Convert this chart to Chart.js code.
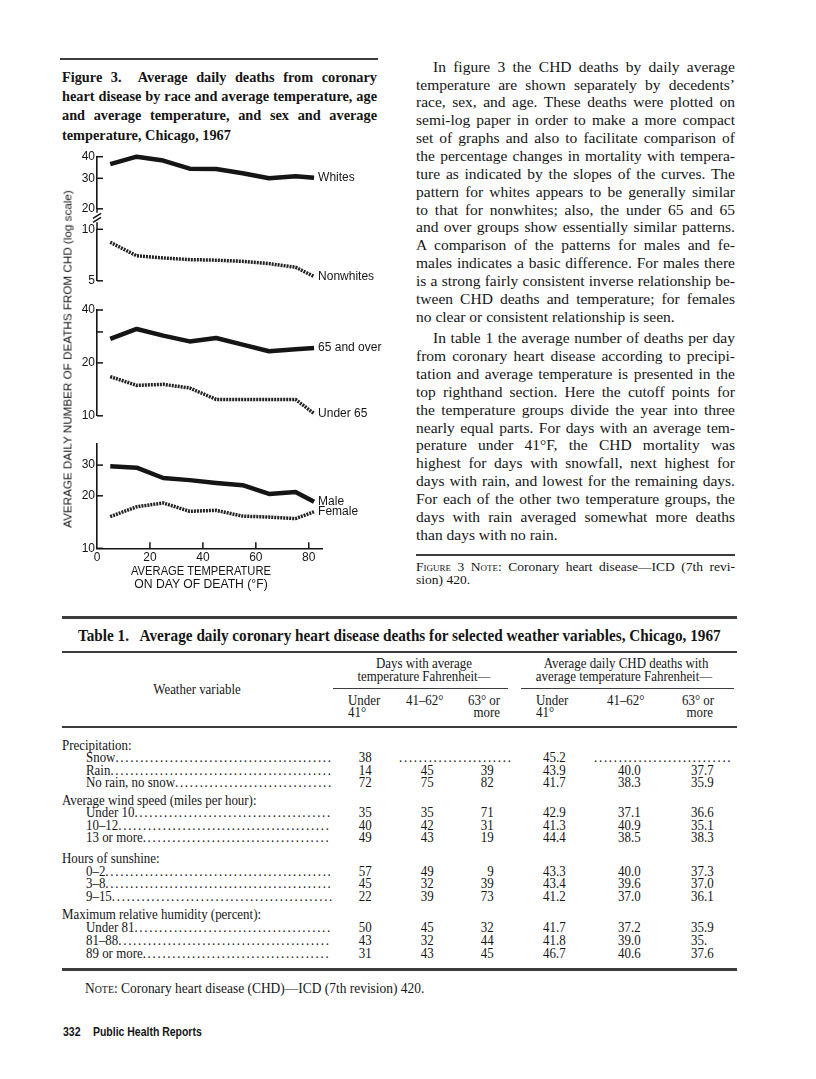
<!DOCTYPE html>
<html>
<head>
<meta charset="utf-8">
<script src="https://cdn.jsdelivr.net/npm/chart.js@4.4.0/dist/chart.umd.min.js"></script>
<style>
  html, body { margin: 0; background: #fff; }
  #page { position: relative; width: 816px; height: 1079px; overflow: hidden; color: #151515;
          font-family: "Liberation Serif", "Times New Roman", serif; }
  .rule { position: absolute; background: #3c3c3c; }
  .t { position: absolute; white-space: nowrap; line-height: 11px; height: 11px; }
  .cap { position: absolute; left: 62px; width: 315px; top: 68px; font-weight: bold; font-size: 14.3px; line-height: 19.2px; }
  .col { position: absolute; left: 416px; width: 319px; font-size: 15.5px; line-height: 17.85px; }
  .j { text-align: justify; text-align-last: justify; }
  .end { text-align: left; text-align-last: left; }
  .ind { text-indent: 17px; }
  .sc { font-variant: small-caps; }
  .dots { letter-spacing: 1.8px; }
  .cw { position: absolute; left: 40px; width: 345px; }
  .sans { font-family: "Liberation Sans", Arial, sans-serif; }
</style>
</head>
<body>
<div id="page">
  <div class="rule" style="left:60px;top:58px;width:318px;height:2px"></div>
  <div class="cap">
    <div class="j">Figure 3.&nbsp; Average daily deaths from coronary</div>
    <div class="j">heart disease by race and average temperature, age</div>
    <div class="j">and average temperature, and sex and average</div>
    <div class="end">temperature, Chicago, 1967</div>
  </div>

  <div class="col" style="top:57.8px">
    <div class="j ind">In figure 3 the CHD deaths by daily average</div>
    <div class="j">temperature are shown separately by decedents’</div>
    <div class="j">race, sex, and age. These deaths were plotted on</div>
    <div class="j">semi-log paper in order to make a more compact</div>
    <div class="j">set of graphs and also to facilitate comparison of</div>
    <div class="j">the percentage changes in mortality with tempera-</div>
    <div class="j">ture as indicated by the slopes of the curves. The</div>
    <div class="j">pattern for whites appears to be generally similar</div>
    <div class="j">to that for nonwhites; also, the under 65 and 65</div>
    <div class="j">and over groups show essentially similar patterns.</div>
    <div class="j">A comparison of the patterns for males and fe-</div>
    <div class="j">males indicates a basic difference. For males there</div>
    <div class="j">is a strong fairly consistent inverse relationship be-</div>
    <div class="j">tween CHD deaths and temperature; for females</div>
    <div class="end">no clear or consistent relationship is seen.</div>
  </div>
  <div class="col" style="top:329.4px">
    <div class="j ind">In table 1 the average number of deaths per day</div>
    <div class="j">from coronary heart disease according to precipi-</div>
    <div class="j">tation and average temperature is presented in the</div>
    <div class="j">top righthand section. Here the cutoff points for</div>
    <div class="j">the temperature groups divide the year into three</div>
    <div class="j">nearly equal parts. For days with an average tem-</div>
    <div class="j">perature under 41°F, the CHD mortality was</div>
    <div class="j">highest for days with snowfall, next highest for</div>
    <div class="j">days with rain, and lowest for the remaining days.</div>
    <div class="j">For each of the other two temperature groups, the</div>
    <div class="j">days with rain averaged somewhat more deaths</div>
    <div class="end">than days with no rain.</div>
  </div>
  <div class="rule" style="left:416px;top:554px;width:319px;height:1.5px"></div>
  <div class="col" style="top:560px;font-size:13.5px;line-height:13.3px">
    <div class="j"><span class="sc">Figure 3 Note</span>: Coronary heart disease—ICD (7th revi-</div>
    <div class="end">sion) 420.</div>
  </div>

  <div class="cw" style="top:146px;height:72px"><canvas id="raceUp"></canvas></div>
  <div class="cw" style="top:212px;height:78px"><canvas id="raceLow"></canvas></div>
  <div class="cw" style="top:300px;height:125px"><canvas id="age"></canvas></div>
  <div class="cw" style="top:433px;height:138px"><canvas id="sex"></canvas></div>

  <div class="rule" style="left:62px;top:616px;width:675px;height:2.5px"></div>
  <div class="rule" style="left:62px;top:651px;width:675px;height:2px"></div>
  <div class="rule" style="left:333px;top:688px;width:175px;height:1.2px"></div>
  <div class="rule" style="left:521px;top:688px;width:213px;height:1.2px"></div>
  <div class="rule" style="left:62px;top:726px;width:675px;height:2px"></div>
  <div class="rule" style="left:62px;top:968px;width:675px;height:2.5px"></div>
</div>

<script>
// figure 3 data (x = temperature bin, °F)
const temps = [5, 15, 25, 35, 45, 55, 65, 75, 82];
const whites = [36.2, 40.0, 38.0, 34.1, 34.0, 32.1, 30.0, 30.8, 30.2];
const nonwhites = [8.4, 7.0, 6.8, 6.65, 6.6, 6.5, 6.3, 6.0, 5.3];
const age65over = [27.4, 31.2, 28.6, 26.5, 27.7, 25.4, 23.3, 23.9, 24.3];
const under65 = [16.7, 14.9, 15.1, 14.4, 12.4, 12.4, 12.4, 12.4, 10.3];
const male = [29.5, 29.0, 25.3, 24.6, 23.7, 23.0, 20.5, 21.0, 18.5];
const female = [15.2, 17.3, 18.2, 16.3, 16.5, 15.3, 15.1, 14.8, 16.2];

const xTicks = [0, 20, 40, 60, 80];
const raceUpTicks = [20, 30, 40];
const raceLowTicks = [5, 10];
const ageTicks = [10, 20, 30, 40];
const ageTickLabels = [10, 20, 40];
const sexTicks = [10, 20, 30];

Chart.defaults.font.family = "'Liberation Sans', Arial, sans-serif";
Chart.defaults.font.size = 12;
Chart.defaults.color = '#151515';

const INK = '#151515';
const SOLID = { borderColor: INK, borderWidth: 4.5, borderJoinStyle: 'round', pointRadius: 0, tension: 0, clip: false };
const DOTTED = { borderColor: '#222', borderWidth: 3.5, borderDash: [2, 1], pointRadius: 0, tension: 0, clip: false };

function series(label, ys, style) {
  return { label, data: temps.map((t, i) => ({ x: t, y: ys[i] })), ...style };
}

// inside tick marks, axis break and end-of-line labels
const decor = {
  id: 'decor',
  afterDatasetsDraw(chart, args, o) {
    const { ctx, chartArea: a, scales: { x, y } } = chart;
    const seg = (x1, y1, x2, y2) => { ctx.beginPath(); ctx.moveTo(x1, y1); ctx.lineTo(x2, y2); ctx.stroke(); };
    ctx.save();
    ctx.strokeStyle = INK; ctx.lineWidth = 1.5; ctx.setLineDash([]);
    y.ticks.forEach(t => { const py = y.getPixelForValue(t.value); seg(a.left, py, a.left + 6, py); });
    if (x.options.display) {
      x.ticks.forEach(t => { if (t.value > 0) { const px = x.getPixelForValue(t.value); seg(px, a.bottom, px, a.bottom - 6); } });
    }
    if (o.tail) seg(a.left, a.bottom, a.left, a.bottom + 4);
    if (o.breakMark) {
      seg(a.left, a.top - 7, a.left, a.top);
      seg(a.left - 4, a.top - 7, a.left + 4, a.top - 12);
      seg(a.left - 4, a.top - 11, a.left + 4, a.top - 16);
    }
    ctx.font = "12px 'Liberation Sans', Arial, sans-serif";
    ctx.fillStyle = INK; ctx.textBaseline = 'middle'; ctx.textAlign = 'left';
    chart.data.datasets.forEach((ds, i) => {
      const pts = chart.getDatasetMeta(i).data;
      const p = pts[pts.length - 1];
      ctx.fillText(ds.label, p.x + 4, p.y + (ds.labelDy || 0));
    });
    ctx.restore();
  }
};

function panel(id, datasets, o) {
  return new Chart(document.getElementById(id), {
    type: 'line',
    data: { datasets },
    options: {
      responsive: true,
      maintainAspectRatio: false,
      animation: false,
      layout: { padding: { left: 0, right: 63, top: o.padTop, bottom: o.padBottom } },
      plugins: { legend: { display: false }, tooltip: { enabled: false }, decor: { breakMark: !!o.breakMark, tail: !!o.tail } },
      scales: {
        x: {
          type: 'linear', min: 0, max: 85, display: !!o.xAxis,
          afterBuildTicks: s => { s.ticks = xTicks.map(v => ({ value: v })); },
          afterFit: s => { s.height = o.xAxis ? 20 : 0; },
          grid: { drawOnChartArea: false, drawTicks: false },
          border: { display: true, color: INK, width: 1.6 },
          ticks: { padding: 2, autoSkip: false, maxRotation: 0 }
        },
        y: {
          type: 'logarithmic', min: o.min, max: o.max,
          afterBuildTicks: s => { s.ticks = o.ticks.map(v => ({ value: v })); },
          afterFit: s => { s.width = 57; },
          grid: { drawOnChartArea: false, drawTicks: false },
          border: { display: true, color: INK, width: 1.6 },
          ticks: { padding: 2, autoSkip: false, callback: v => (o.labels || o.ticks).includes(v) ? String(v) : '' }
        }
      }
    },
    plugins: [decor]
  });
}

panel('raceUp', [series('Whites', whites, SOLID)],
  { min: 20, max: 40, ticks: raceUpTicks, padTop: 10.7, padBottom: 8, tail: true });
panel('raceLow', [series('Nonwhites', nonwhites, DOTTED)],
  { min: 5, max: 10, ticks: raceLowTicks, padTop: 17.3, padBottom: 8.3, breakMark: true });
panel('age', [series('65 and over', age65over, SOLID), series('Under 65', under65, DOTTED)],
  { min: 10, max: 40, ticks: ageTicks, labels: ageTickLabels, padTop: 10, padBottom: 8.3 });
panel('sex', [series('Male', male, SOLID), series('Female', female, DOTTED)],
  { min: 10, max: 40, ticks: sexTicks, padTop: 10.3, padBottom: 2.7, xAxis: true });

// text pieces (table, axis titles, footer)
const page = document.getElementById('page');
const TSX = 0.95;
function put(html, x, y, opt = {}) {
  const d = document.createElement('div');
  d.className = 't' + (opt.cls ? ' ' + opt.cls : '');
  d.innerHTML = html;
  d.style.fontSize = (opt.size || 13.6) + 'px';
  if (opt.bold) d.style.fontWeight = 'bold';
  d.style.top = (y - 5.5) + 'px';
  page.appendChild(d);
  let sx = opt.sx || TSX;
  if (opt.fit) sx = opt.fit / d.offsetWidth;
  const al = opt.align || 'left';
  if (al === 'left') { d.style.left = x + 'px'; d.style.transformOrigin = 'left center'; d.style.transform = `scaleX(${sx})`; }
  else if (al === 'right') { d.style.right = (816 - x) + 'px'; d.style.transformOrigin = 'right center'; d.style.transform = `scaleX(${sx})`; }
  else { d.style.left = x + 'px'; d.style.transform = `translateX(-50%) scaleX(${sx})`; }
  return d;
}
// text followed by as many leader dots as fit in the given width
function leader(label, x, y, width) {
  const d = put(label, x, y);
  let n = 0;
  const set = k => { d.innerHTML = label + '<span class="dots">' + '.'.repeat(k) + '</span>'; };
  while (true) { set(n + 1); if (d.offsetWidth * TSX > width) break; n++; }
  set(n);
  return d;
}

// axis titles
const yt = put('AVERAGE DAILY NUMBER OF DEATHS FROM CHD (log scale)', 67.5, 359, { cls: 'sans', size: 11.5, sx: 1 });
yt.style.transformOrigin = '50% 50%';
yt.style.transform = `translate(-50%,-50%) rotate(-90deg) scaleX(${338 / yt.offsetWidth})`;
yt.style.top = '359px';
put('AVERAGE TEMPERATURE', 201, 571.7, { cls: 'sans', size: 12, align: 'center', fit: 140 });
put('ON DAY OF DEATH (°F)', 200.5, 584, { cls: 'sans', size: 12, align: 'center', fit: 133 });

// table 1
put('Table 1.&nbsp;&nbsp; Average daily coronary heart disease deaths for selected weather variables, Chicago, 1967',
  78, 635, { size: 16.5, bold: true, fit: 643 });
put('Days with average', 424, 663, { align: 'center' });
put('temperature Fahrenheit—', 424, 676.7, { align: 'center' });
put('Average daily CHD deaths with', 626, 663, { align: 'center' });
put('average temperature Fahrenheit—', 624, 676.7, { align: 'center' });
put('Weather variable', 197, 689, { align: 'center' });
[[348, 'Under', '41°'], [536, 'Under', '41°']].forEach(([x, a, b]) => { put(a, x, 700); put(b, x, 712); });
put('41–62°', 406, 700); put('41–62°', 607, 700);
put('63° or', 468, 700); put('more', 500, 712, { align: 'right' });
put('63° or', 682, 700); put('more', 713, 712, { align: 'right' });

const tableRows = [
  { y: 745, head: 'Precipitation:' },
  { y: 757.5, label: 'Snow', v: ['38', '', '', '45.2', '', ''] },
  { y: 770, label: 'Rain', v: ['14', '45', '39', '43.9', '40.0', '37.7'] },
  { y: 782.7, label: 'No rain, no snow', v: ['72', '75', '82', '41.7', '38.3', '35.9'] },
  { y: 800, head: 'Average wind speed (miles per hour):' },
  { y: 812.5, label: 'Under 10', v: ['35', '35', '71', '42.9', '37.1', '36.6'] },
  { y: 825, label: '10–12', v: ['40', '42', '31', '41.3', '40.9', '35.1'] },
  { y: 837.7, label: '13 or more', v: ['49', '43', '19', '44.4', '38.5', '38.3'] },
  { y: 858, head: 'Hours of sunshine:' },
  { y: 871, label: '0–2', v: ['57', '49', '9', '43.3', '40.0', '37.3'] },
  { y: 883.5, label: '3–8', v: ['45', '32', '39', '43.4', '39.6', '37.0'] },
  { y: 896, label: '9–15', v: ['22', '39', '73', '41.2', '37.0', '36.1'] },
  { y: 914.5, head: 'Maximum relative humidity (percent):' },
  { y: 927, label: 'Under 81', v: ['50', '45', '32', '41.7', '37.2', '35.9'] },
  { y: 940, label: '81–88', v: ['43', '32', '44', '41.8', '39.0', '35.'] },
  { y: 953, label: '89 or more', v: ['31', '43', '45', '46.7', '40.6', '37.6'] }
];
const colX = [372, 434, 494, 543, 618, 691];
const colAlign = ['right', 'right', 'right', 'left', 'left', 'left'];

tableRows.forEach(r => {
  if (r.head) { put(r.head, 62, r.y); return; }
  leader(r.label, 86, r.y, 248);
  r.v.forEach((s, i) => { if (s) put(s, colX[i], r.y, { align: colAlign[i] }); });
});
leader('', 399, 757.5, 116);
leader('', 594, 757.5, 143);

put('<span class="sc">Note</span>: Coronary heart disease (CHD)—ICD (7th revision) 420.', 85, 988, { fit: 339 });
put('332', 62.5, 1032, { cls: 'sans', size: 12, bold: true, fit: 17.5 });
put('Public Health Reports', 92.7, 1032, { cls: 'sans', size: 12, bold: true, fit: 109 });
</script>
</body>
</html>
